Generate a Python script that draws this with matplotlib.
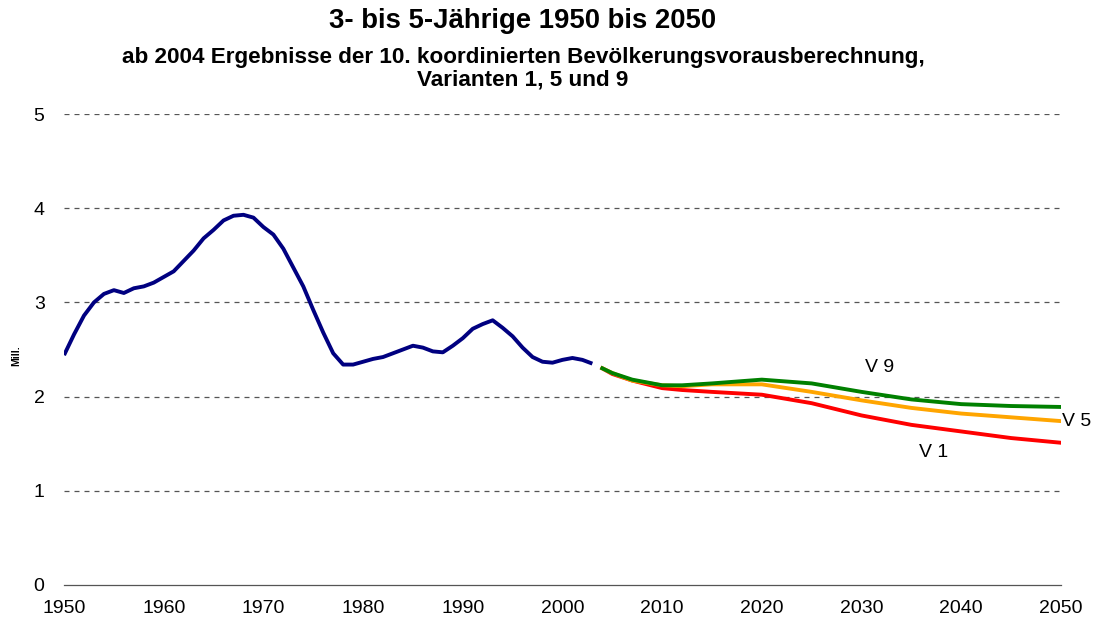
import matplotlib
matplotlib.use("Agg")
import matplotlib.pyplot as plt

plt.rcParams['font.family'] = ['Liberation Sans', 'DejaVu Sans']

hist_years = list(range(1950, 2004))
hist_vals = [2.44, 2.66, 2.86, 3.00, 3.09, 3.13, 3.10, 3.15, 3.17, 3.21,
             3.27, 3.33, 3.44, 3.55, 3.68, 3.77, 3.87, 3.92, 3.93, 3.90,
             3.80, 3.72, 3.57, 3.37, 3.17, 2.92, 2.68, 2.46, 2.34, 2.34,
             2.37, 2.40, 2.42, 2.46, 2.50, 2.54, 2.52, 2.48, 2.47, 2.54,
             2.62, 2.72, 2.77, 2.81, 2.73, 2.64, 2.52, 2.42, 2.37, 2.36,
             2.39, 2.41, 2.39, 2.35]

proj_years = [2004, 2005, 2007, 2010, 2012, 2015, 2020, 2025, 2030, 2035, 2040, 2045, 2050]
v9_vals = [2.30, 2.25, 2.18, 2.12, 2.12, 2.14, 2.18, 2.14, 2.05, 1.97, 1.92, 1.90, 1.89]
v5_vals = [2.30, 2.25, 2.17, 2.12, 2.11, 2.13, 2.13, 2.05, 1.96, 1.88, 1.82, 1.78, 1.74]
v1_vals = [2.30, 2.24, 2.17, 2.09, 2.07, 2.05, 2.02, 1.93, 1.80, 1.70, 1.63, 1.56, 1.51]

x_ticks = list(range(1950, 2051, 10))
y_ticks = [0, 1, 2, 3, 4, 5]

fig = plt.figure(figsize=(10.93, 6.21), dpi=100)
ax = fig.add_axes([0.0586, 0.058, 0.912, 0.7584])

for y in y_ticks[1:]:
    ax.axhline(y, color='#555555', linestyle=(0, (4, 4)), linewidth=0.9, zorder=1)

lw = 2.8
ax.plot(hist_years, hist_vals, color='#000080', linewidth=lw, zorder=3, solid_capstyle='butt')
ax.plot(proj_years, v1_vals, color='#FF0000', linewidth=lw, zorder=3)
ax.plot(proj_years, v5_vals, color='#FFA500', linewidth=lw, zorder=4)
ax.plot(proj_years, v9_vals, color='#008000', linewidth=lw, zorder=5)

ax.set_xlim(1950, 2050)
ax.set_ylim(0, 5)
ax.set_xticks(x_ticks)
ax.set_yticks(y_ticks)
ax.set_xticks([1950, 2050], minor=True)
ax.tick_params(axis='x', which='major', length=0, labelsize=14, pad=11)
ax.tick_params(axis='x', which='minor', length=5, width=0.8, color='#555555', direction='out')
ax.tick_params(axis='y', length=0, labelsize=14, pad=14)

for s in ['top', 'right', 'left']:
    ax.spines[s].set_visible(False)
ax.spines['bottom'].set_color('#555555')
ax.spines['bottom'].set_linewidth(0.9)

ax.text(2031.8, 2.31, 'V 9', fontsize=14, ha='center', va='center')
ax.text(2050.1, 1.74, 'V 5', fontsize=14, ha='left', va='center', clip_on=False)
ax.text(2037.2, 1.41, 'V 1', fontsize=14, ha='center', va='center')

fig.text(16/1093, 1 - 356/621, 'Mill.', rotation=90, fontsize=7.5, fontweight='bold',
         ha='center', va='center')

cx = 523/1093
fig.text(cx, 1 - 21/621, '3- bis 5-Jährige 1950 bis 2050', fontsize=19.8, fontweight='bold',
         ha='center', va='center')
fig.text(cx, 1 - 57/621, 'ab 2004 Ergebnisse der 10. koordinierten Bevölkerungsvorausberechnung,',
         fontsize=16.2, fontweight='bold', ha='center', va='center')
fig.text(cx, 1 - 80/621, 'Varianten 1, 5 und 9',
         fontsize=16.2, fontweight='bold', ha='center', va='center')

fig.savefig('out.png', dpi=100)
